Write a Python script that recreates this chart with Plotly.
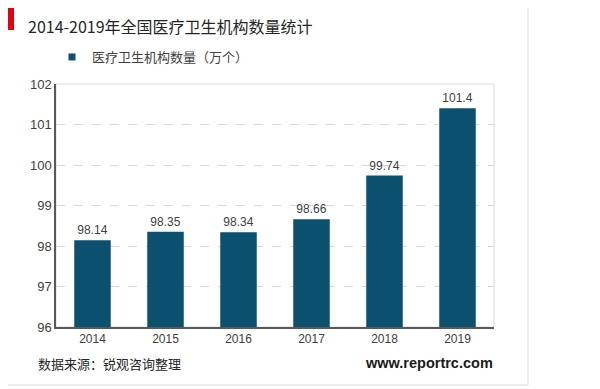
import plotly.graph_objects as go

years = ["2014", "2015", "2016", "2017", "2018", "2019"]
values = [98.14, 98.35, 98.34, 98.66, 99.74, 101.4]
value_labels = ["98.14", "98.35", "98.34", "98.66", "99.74", "101.4"]
series_name = "医疗卫生机构数量（万个）"
title_text = "2014-2019年全国医疗卫生机构数量统计"
source_text = "数据来源：锐观咨询整理"
site_text = "www.reportrc.com"

W, H = 600, 389
OFF = 8  # page body margin offset
L, R, T, B = 56 - OFF, 106 + OFF, 84 - OFF, 62 + OFF
pw, ph = W - L - R, H - T - B

def px(x):
    return (x - OFF - L) / pw

def py(y):
    return (H - B - (y - OFF)) / ph

font_fam = "Liberation Sans, Noto Sans CJK SC, sans-serif"
bar_color = "#0c5070"

fig = go.Figure()
fig.add_trace(go.Bar(
    x=years, y=values, name=series_name, showlegend=False,
    marker=dict(color=bar_color, line=dict(width=0)),
    width=0.5,
    text=value_labels, textposition="outside",
    textfont=dict(size=12, color="#404040", family=font_fam),
    cliponaxis=False,
))
# legend-only entry with a small square symbol
fig.add_trace(go.Scatter(
    x=[None], y=[None], mode="markers", name=series_name, showlegend=True,
    marker=dict(symbol="square", size=7, color=bar_color),
))

fig.update_layout(
    width=W, height=H,
    margin=dict(l=L, r=R, t=T, b=B, autoexpand=False),
    paper_bgcolor="white", plot_bgcolor="white",
    font=dict(family=font_fam, color="#404040"),
    showlegend=True,
    legend=dict(orientation="h", x=px(52), y=py(57), xanchor="left", yanchor="middle",
                font=dict(size=13, color="#404040", family="Noto Sans CJK SC, sans-serif"),
                itemwidth=30, bgcolor="rgba(0,0,0,0)"),
    xaxis=dict(showline=True, linecolor="#595959", linewidth=1.5, ticks="",
               tickfont=dict(size=12, color="#404040"), showgrid=False),
    yaxis=dict(range=[96, 102], dtick=1, showline=True, linecolor="#595959", linewidth=1.5,
               showgrid=True, gridcolor="#d9d9d9", griddash="dash", gridwidth=1,
               tickfont=dict(size=13, color="#404040"), ticks="", zeroline=False),
    shapes=[
        dict(type="rect", xref="paper", yref="paper", x0=px(6), x1=px(528), y0=py(385), y1=py(6),
             line=dict(color="#d9d9d9", width=1), fillcolor="rgba(0,0,0,0)", layer="below"),
        dict(type="rect", xref="paper", yref="paper", x0=0, x1=1, y0=0, y1=1,
             line=dict(color="#d9d9d9", width=1), fillcolor="rgba(0,0,0,0)", layer="below"),
        dict(type="rect", xref="paper", yref="paper", x0=px(5), x1=px(14), y0=py(30), y1=py(7),
             line=dict(width=0), fillcolor="#e60012"),
    ],
    annotations=[
        dict(text=title_text, xref="paper", yref="paper", x=px(26), y=py(26), xanchor="left",
             yanchor="middle", showarrow=False,
             font=dict(size=16, color="#262626", family="Noto Sans CJK SC, sans-serif")),
        dict(text=source_text, xref="paper", yref="paper", x=px(36), y=py(363), xanchor="left",
             yanchor="middle", showarrow=False,
             font=dict(size=13, color="#262626", family="Noto Sans CJK SC, sans-serif")),
        dict(text="<b>" + site_text + "</b>", xref="paper", yref="paper", x=px(495), y=py(363),
             xanchor="right", yanchor="middle", showarrow=False,
             font=dict(size=14.5, color="#1a1a1a", family="Liberation Sans, sans-serif")),
    ],
)

fig.write_html("out.html")
